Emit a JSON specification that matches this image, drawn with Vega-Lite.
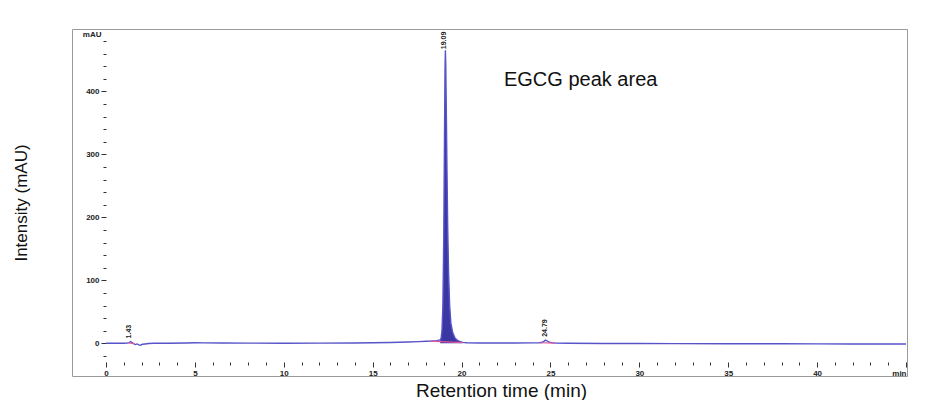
{
  "$schema": "https://vega.github.io/schema/vega-lite/v6.json",
  "width": 835,
  "height": 347,
  "autosize": "none",
  "padding": {"left": 72, "top": 29, "right": 32, "bottom": 24},
  "background": "white",
  "config": {
    "view": {"stroke": "#9a9a9a", "strokeWidth": 1},
    "font": "Liberation Sans"
  },
  "datasets": {
    "trace": [
      {"t": 0, "mAU": 0}, {"t": 0.5, "mAU": 0}, {"t": 1.0, "mAU": 0.2}, {"t": 1.2, "mAU": 0.5},
      {"t": 1.3, "mAU": 1.0}, {"t": 1.38, "mAU": 2.8}, {"t": 1.45, "mAU": 1.5}, {"t": 1.55, "mAU": -0.5},
      {"t": 1.65, "mAU": -2.0}, {"t": 1.75, "mAU": -1.0}, {"t": 1.85, "mAU": -2.5}, {"t": 1.95, "mAU": -3.0},
      {"t": 2.05, "mAU": -1.5}, {"t": 2.2, "mAU": -1.0}, {"t": 2.4, "mAU": -0.3}, {"t": 2.7, "mAU": 0},
      {"t": 3.5, "mAU": 0.1}, {"t": 4.5, "mAU": 0.5}, {"t": 5.0, "mAU": 0.8}, {"t": 5.5, "mAU": 0.6},
      {"t": 6.5, "mAU": 0.4}, {"t": 8, "mAU": 0.3}, {"t": 10, "mAU": 0.2}, {"t": 12, "mAU": 0.3},
      {"t": 14, "mAU": 0.5}, {"t": 15, "mAU": 0.8}, {"t": 16, "mAU": 1.3}, {"t": 17, "mAU": 2.0},
      {"t": 17.6, "mAU": 2.6}, {"t": 18.0, "mAU": 3.2}, {"t": 18.3, "mAU": 3.6}, {"t": 18.6, "mAU": 4.2},
      {"t": 18.8, "mAU": 5.5}, {"t": 18.85, "mAU": 8}, {"t": 18.9, "mAU": 20}, {"t": 18.95, "mAU": 60},
      {"t": 19.0, "mAU": 170}, {"t": 19.04, "mAU": 330}, {"t": 19.07, "mAU": 435}, {"t": 19.09, "mAU": 465},
      {"t": 19.11, "mAU": 445}, {"t": 19.14, "mAU": 375}, {"t": 19.18, "mAU": 275}, {"t": 19.22, "mAU": 185},
      {"t": 19.27, "mAU": 112}, {"t": 19.33, "mAU": 60}, {"t": 19.4, "mAU": 32}, {"t": 19.5, "mAU": 17},
      {"t": 19.62, "mAU": 9}, {"t": 19.75, "mAU": 5}, {"t": 19.9, "mAU": 2.8}, {"t": 20.05, "mAU": 1.5},
      {"t": 20.3, "mAU": 0.8}, {"t": 21, "mAU": 0.5}, {"t": 22, "mAU": 0.4}, {"t": 23, "mAU": 0.5},
      {"t": 24, "mAU": 0.7}, {"t": 24.4, "mAU": 0.9}, {"t": 24.55, "mAU": 1.6}, {"t": 24.65, "mAU": 3.5},
      {"t": 24.72, "mAU": 5.2}, {"t": 24.8, "mAU": 4.0}, {"t": 24.9, "mAU": 2.2}, {"t": 25.05, "mAU": 1.0},
      {"t": 25.3, "mAU": 0.3}, {"t": 26, "mAU": 0}, {"t": 28, "mAU": -0.2}, {"t": 30, "mAU": -0.3},
      {"t": 32, "mAU": -0.5}, {"t": 35, "mAU": -0.6}, {"t": 38, "mAU": -0.8}, {"t": 40, "mAU": -0.9},
      {"t": 42, "mAU": -1.0}, {"t": 45, "mAU": -1.0}
    ],
    "baselines": [
      {"t": 18.25, "mAU": 3.5, "t2": 20.05, "mAU2": 1.0},
      {"t": 24.45, "mAU": 0.9, "t2": 25.25, "mAU2": 0.3},
      {"t": 1.28, "mAU": 0.8, "t2": 1.6, "mAU2": -0.6}
    ],
    "peaks": [
      {"t": 1.3, "mAU": 3, "lab": "1.43"},
      {"t": 19.02, "mAU": 462, "lab": "19.09"},
      {"t": 24.68, "mAU": 5.5, "lab": "24.79"}
    ],
    "notes": [
      {"t": 26.7, "mAU": 418, "txt": "EGCG peak area"}
    ]
  },
  "data": {"name": "trace"},
  "encoding": {
    "x": {
      "field": "t",
      "type": "quantitative",
      "scale": {"domain": [-1.9125, 45.056], "nice": false, "zero": false},
      "axis": {
        "title": "Retention time (min)",
        "orient": "bottom",
        "offset": -14,
        "domain": false,
        "grid": false,
        "values": [0,1,2,3,4,5,6,7,8,9,10,11,12,13,14,15,16,17,18,19,20,21,22,23,24,25,26,27,28,29,30,31,32,33,34,35,36,37,38,39,40,41,42,43,44,45],
        "labelExpr": "datum.value === 45 ? 'min' : (datum.value % 5 === 0 ? datum.label : '')",
        "tickSize": {"condition": {"test": "datum.value % 5 === 0", "value": 5}, "value": 3},
        "labelAlign": {"condition": {"test": "datum.value === 45", "value": "right"}, "value": "center"},
        "tickColor": "#333333",
        "labelFontSize": 8,
        "labelFontWeight": "bold",
        "labelColor": "#222222",
        "labelPadding": 2,
        "labelFlush": false,
        "labelOverlap": false,
        "titleFontSize": 19,
        "titleFontWeight": "normal",
        "titleColor": "#111111",
        "titlePadding": 4,
        "titleX": 429
      }
    },
    "y": {
      "field": "mAU",
      "type": "quantitative",
      "scale": {"domain": [-51.9, 498.9], "nice": false, "zero": false},
      "axis": {
        "title": "Intensity (mAU)",
        "orient": "left",
        "offset": -34,
        "domain": false,
        "grid": false,
        "values": [-20,0,20,40,60,80,100,120,140,160,180,200,220,240,260,280,300,320,340,360,380,400,420,440,460,480,490],
        "labelExpr": "datum.value === 490 ? 'mAU' : (datum.value % 100 === 0 ? datum.label : '')",
        "tickSize": {"condition": {"test": "datum.value % 100 === 0", "value": 5}, "value": 3},
        "tickOpacity": {"condition": {"test": "datum.value === 490", "value": 0}, "value": 1},
        "tickColor": "#333333",
        "labelFontSize": 8,
        "labelFontWeight": "bold",
        "labelColor": "#222222",
        "labelPadding": 2,
        "labelOverlap": false,
        "titleFontSize": 17,
        "titleFontWeight": "normal",
        "titleColor": "#111111",
        "titlePadding": 52
      }
    }
  },
  "layer": [
    {
      "transform": [{"filter": "datum.t >= 18.8 && datum.t <= 20.05"}],
      "mark": {"type": "area", "color": "#2f2c9e", "opacity": 0.95},
      "encoding": {"y2": {"datum": 0}}
    },
    {
      "mark": {"type": "line", "color": "#5753c8", "strokeWidth": 1.4},
      "encoding": {}
    },
    {
      "data": {"name": "baselines"},
      "mark": {"type": "rule", "color": "#e0559a", "strokeWidth": 1.2},
      "encoding": {"x2": {"field": "t2"}, "y2": {"field": "mAU2"}}
    },
    {
      "data": {"values": [{}]},
      "mark": {"type": "rule", "color": "#333333", "strokeWidth": 1},
      "encoding": {
        "x": {"datum": 0, "type": "quantitative"},
        "y": {"datum": -30, "type": "quantitative"},
        "y2": {"datum": 492}
      }
    },
    {
      "data": {"values": [{}]},
      "mark": {"type": "rule", "color": "#333333", "strokeWidth": 1},
      "encoding": {
        "x": {"datum": 0, "type": "quantitative"},
        "x2": {"datum": 45},
        "y": {"datum": -30, "type": "quantitative"}
      }
    },
    {
      "data": {"name": "peaks"},
      "mark": {"type": "text", "angle": 270, "align": "left", "baseline": "middle", "dx": 3, "fontSize": 7, "fontWeight": "bold", "color": "#222222"},
      "encoding": {"text": {"field": "lab"}}
    },
    {
      "data": {"name": "notes"},
      "mark": {"type": "text", "align": "center", "baseline": "middle", "fontSize": 20, "color": "#111111"},
      "encoding": {"text": {"field": "txt"}}
    }
  ]
}
